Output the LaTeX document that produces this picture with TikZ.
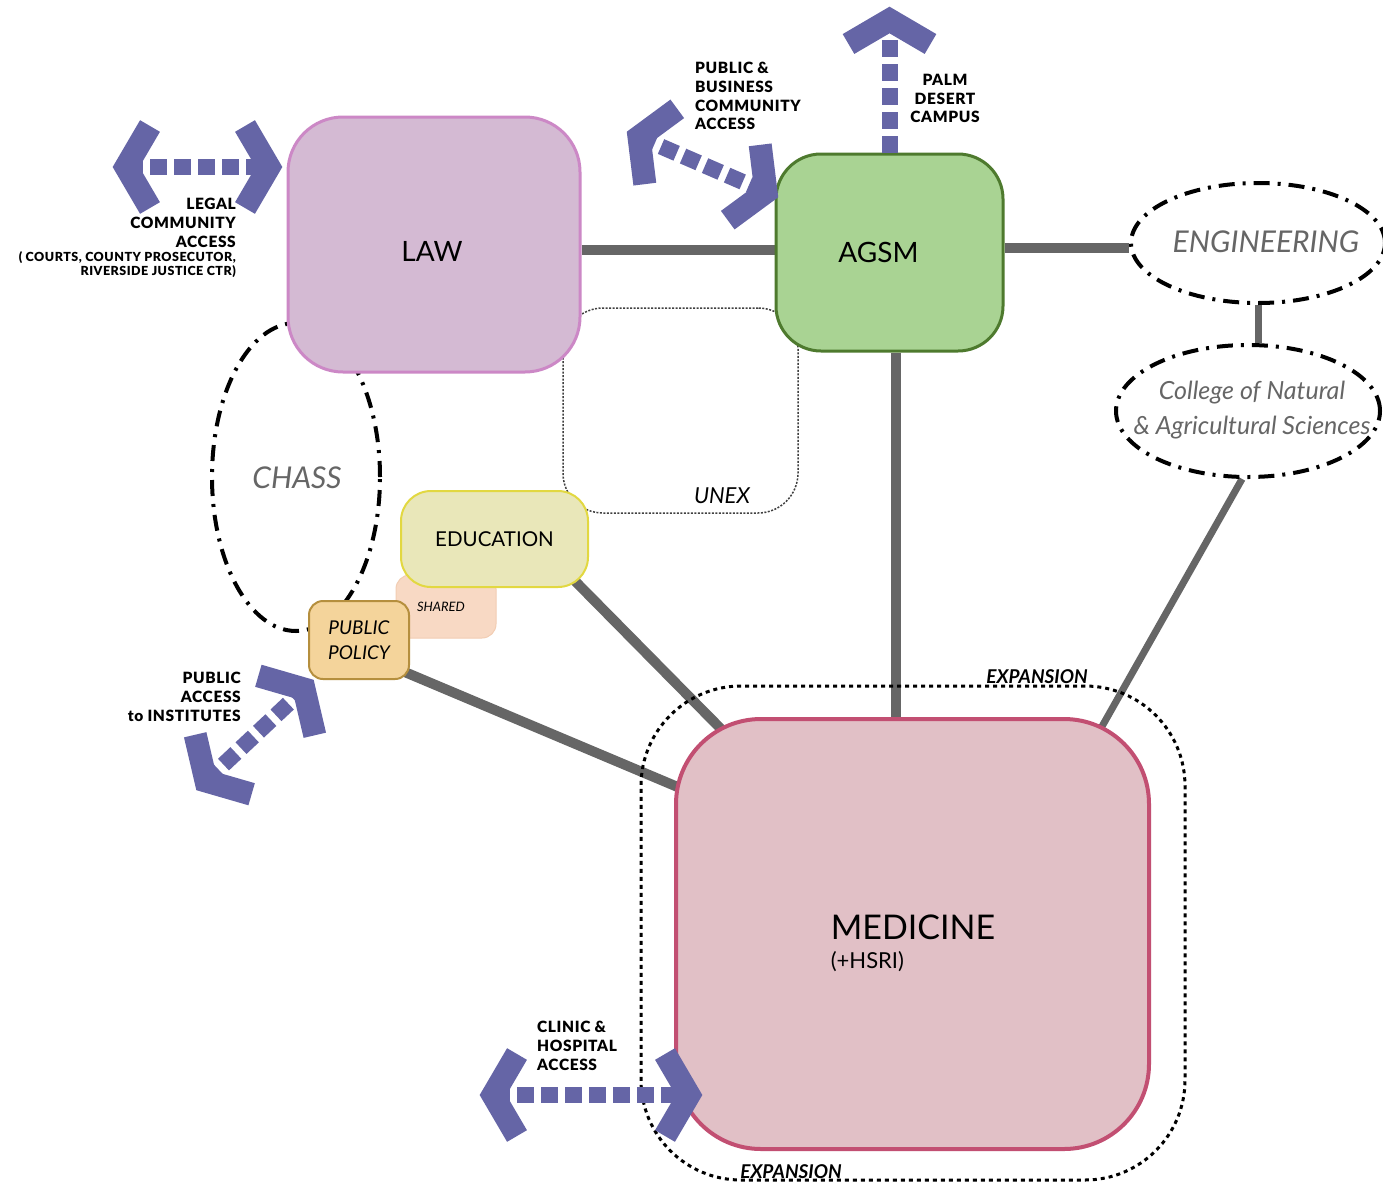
\documentclass[tikz,border=0pt]{standalone}
\usepackage{fontspec}
\setmainfont{Lato}
\newfontfamily\lblfont[LetterSpace=4,BoldFont={Lato Black}]{Lato}
\usetikzlibrary{shapes.geometric,backgrounds,calc}

\definecolor{lawfill}{HTML}{D4BAD3}
\definecolor{lawline}{HTML}{CC88C6}
\definecolor{agsmfill}{HTML}{A9D393}
\definecolor{agsmline}{HTML}{4E7A2E}
\definecolor{medfill}{HTML}{E1C0C6}
\definecolor{medline}{HTML}{C24F72}
\definecolor{edufill}{HTML}{E9E7B9}
\definecolor{eduline}{HTML}{E2D841}
\definecolor{sharedfill}{HTML}{F8D9C4}
\definecolor{sharedline}{HTML}{F2CDB3}
\definecolor{ppfill}{HTML}{F4D49B}
\definecolor{ppline}{HTML}{B58F3E}
\definecolor{access}{HTML}{6565A6}
\definecolor{linkgray}{HTML}{666666}

\newcommand{\fs}[2]{\fontsize{#1}{#2}\selectfont}

\tikzset{
 pics/chevron/.style={code={\draw[access,line width=23pt,line join=miter,miter limit=10] (-24,41) -- (0,0) -- (-24,-41);}}
}

\begin{document}
\begin{tikzpicture}[x=1pt,y=-1pt,
 box/.style={draw,rounded corners=#1,inner sep=0pt},
 zone/.style={draw,ellipse,line width=4pt,dash pattern=on 16pt off 8pt on 3pt off 8pt,inner sep=0pt},
 zonetxt/.style={inner sep=0pt,text=linkgray,align=center},
 link/.style={linkgray,line width=10pt},
 thinlink/.style={linkgray,line width=7pt},
 accessway/.style={access,line width=16pt,dash pattern=on 17pt off 7pt},
 lbl/.style={inner sep=0pt,font=\lblfont\bfseries\fs{15.5}{18.7}},
 tiny/.style={inner sep=0pt,font=\lblfont\bfseries\fs{12.5}{14}}]
\useasboundingbox (0,0) rectangle (1383,1186);

% outlines
\node[zone,minimum width=168pt,minimum height=308pt] (chass) at (296,477) {};
\node[zonetxt,font=\itshape\fs{30}{34}] (chasstxt) at (297,478) {CHASS};
\node[zone,minimum width=254pt,minimum height=120pt] (eng) at (1258,243) {};
\node[zonetxt,font=\itshape\fs{30}{34}] (engtxt) at (1266,242) {ENGINEERING};
\node[zone,minimum width=264pt,minimum height=132pt] (cnas) at (1248,411) {};
\node[zonetxt,font=\itshape\fs{25}{35}] (cnastxt) at (1252,410) {College of Natural\\\& Agricultural Sciences};
\node[box=40pt,draw=black!75,line width=1.5pt,dash pattern=on 2pt off 1.5pt,minimum width=235pt,minimum height=205pt] (unex) at (680.5,410.5) {};
\node[box=100pt,line width=3pt,dash pattern=on 4pt off 4pt,minimum width=544pt,minimum height=494pt] (exp) at (913,933) {};

% schools
\node[box=55pt,fill=lawfill,draw=lawline,line width=3pt,minimum width=292pt,minimum height=255pt,font=\fs{28}{32},text height=33pt,text depth=0pt] (law) at (434,244.5) {\hspace*{-4pt}LAW};
\node[box=45pt,fill=agsmfill,draw=agsmline,line width=3pt,minimum width=227pt,minimum height=197pt,font=\fs{28}{32}] (agsm) at (889.5,252.5) {\hspace*{-22pt}AGSM};
\node[box=85pt,fill=medfill,draw=medline,line width=4pt,minimum width=473pt,minimum height=430pt] (med) at (912.5,934) {};
\node[box=14pt,fill=sharedfill,draw=sharedline,line width=1pt,minimum width=100pt,minimum height=63pt,font=\itshape\fs{13}{16}] (shared) at (446,606.5) {\hspace*{-10pt}SHARED};
\node[box=30pt,fill=edufill,draw=eduline,line width=2pt,minimum width=187pt,minimum height=96pt,font=\fs{20.5}{22}] (edu) at (494.5,539) {EDUCATION};
\node[box=14pt,fill=ppfill,draw=ppline,line width=2pt,minimum width=100pt,minimum height=78pt,align=center,font=\itshape\fs{19}{25}] (pp) at (359,640) {PUBLIC\\POLICY};

% texts
\node[inner sep=0pt,font=\fs{34}{38}] (medtxt) at (913,927) {MEDICINE};
\node[inner sep=0pt,anchor=west,font=\fs{22}{26}] (hsri) at (medtxt.west |- 0,962) {(+HSRI)};
\node[inner sep=0pt,font=\itshape\fs{22}{26}] (unextxt) at (722,496) {UNEX};
\node[inner sep=0pt,font=\bfseries\itshape\fs{19}{22}] (exptop) at (1037,677) {EXPANSION};
\node[inner sep=0pt,font=\bfseries\itshape\fs{19}{22}] (expbot) at (791,1172) {EXPANSION};
\node[lbl,align=right,anchor=north east] (legal) at (236,198) {LEGAL\\COMMUNITY\\ACCESS};
\node[tiny,align=right,anchor=north east] (courts) at (236,251) {( COURTS, COUNTY PROSECUTOR,\\RIVERSIDE JUSTICE CTR)};
\node[lbl,align=left,anchor=north west] (pubbus) at (695,62) {PUBLIC \&\\BUSINESS\\COMMUNITY\\ACCESS};
\node[lbl,align=center,anchor=north] (palmtxt) at (945,74) {PALM\\DESERT\\CAMPUS};
\node[lbl,align=right,anchor=north east] (inst) at (241,672) {PUBLIC\\ACCESS\\to INSTITUTES};
\node[lbl,align=left,anchor=north west] (clinic) at (537,1021) {CLINIC \&\\HOSPITAL\\ACCESS};

% links
\begin{scope}[on background layer]
\fill[white] (0,0) rectangle (1383,1186);
\draw[link] (law.east |- 0,250) -- (agsm.west |- 0,250);
\draw[link] (agsm.east |- 0,248) -- (eng.west |- 0,248);
\draw[thinlink] (eng.south) -- (eng.south |- cnas.north);
\draw[link] ($(agsm.south)+(6,0)$) -- ($(agsm.south |- med.north)+(6,10)$);
\draw[thinlink] (cnas.265) -- ($(med.north east)+(-55,20)$);
\draw[link] ($(edu.south east)+(-15,-8)$) -- ($(med.north west)+(55,20)$);
\draw[link] ($(pp.south east)+(-10,-10)$) -- ($(med.north west)+(44,87)$);
\end{scope}

% access arrows
\coordinate (legalL) at (126,167);
\coordinate (legalR) at (269,167);
\coordinate (busL) at (639,137);
\coordinate (busR) at (766,192);
\coordinate (palm) at (889.5,20);
\coordinate (instL) at (206,781);
\coordinate (instR) at (304,689);
\coordinate (clinL) at (493,1095);
\coordinate (clinR) at (689,1095);
\draw[accessway] (legalL) -- (legalR);
\draw[accessway] (busL) -- (busR);
\draw[accessway] (agsm.north) -- (palm);
\draw[accessway] (instL) -- (instR);
\draw[accessway] (clinL) -- (clinR);
\pic[rotate=180] at (legalL) {chevron};
\pic at (legalR) {chevron};
\pic[rotate=156.7] at (busL) {chevron};
\pic[rotate=-23.3] at (busR) {chevron};
\pic[rotate=90] at (palm) {chevron};
\pic[rotate=223.5] at (instL) {chevron};
\pic[rotate=43.5] at (instR) {chevron};
\pic[rotate=180] at (clinL) {chevron};
\pic at (clinR) {chevron};
\end{tikzpicture}
\end{document}
